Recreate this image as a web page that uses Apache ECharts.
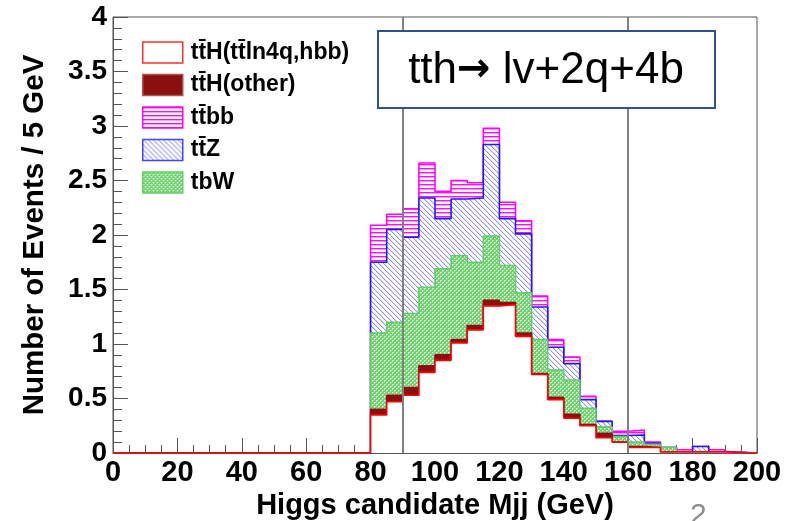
<!DOCTYPE html>
<html><head><meta charset="utf-8">
<script src="https://cdn.jsdelivr.net/npm/echarts@6/dist/echarts.min.js"></script>
<style>html,body{margin:0;padding:0;background:#fff}#c{width:785px;height:521px}</style>
</head><body><div id="c"></div>
<script>
// ---- data ----
const binLowEdges = [80,85,90,95,100,105,110,115,120,125,130,135,140,145,150,155,160,165,170,175,180,185];
const binUpperEdge = 190;
const xRange = [0, 200];
const yRange = [0, 4];
const xTickLabels = ['0','20','40','60','80','100','120','140','160','180','200'];
const yTickLabels = ['0','0.5','1','1.5','2','2.5','3','3.5','4'];
const cutLines = [90, 160];
const seriesNames = ['tt\u0304H(tt\u0304ln4q,hbb)', 'tt\u0304H(other)', 'tt\u0304bb', 'tt\u0304Z', 'tbW'];
// per-process bin contents (stack order bottom to top: ttH ln4q, ttH other, tbW, ttZ, ttbb)
const ttH_ln4q = [0.35,0.47,0.53,0.74,0.85,1.01,1.13,1.35,1.36,1.07,0.72,0.49,0.32,0.25,0.14,0.10,0.05,0.05,0.01,0.01,0.01,0.01];
const ttH_other = [0.05,0.06,0.07,0.06,0.05,0.03,0.04,0.05,0.02,0.03,0.01,0.02,0.035,0.01,0.04,0.00,0.01,0.00,0.00,0.00,0.00,0.00];
const tbW = [0.70,0.67,0.68,0.72,0.79,0.77,0.58,0.59,0.34,0.37,0.31,0.25,0.315,0.15,0.06,0.05,0.04,0.03,0.04,0.00,0.00,0.00];
const ttZ = [0.65,0.85,0.70,0.82,0.46,0.52,0.59,0.84,0.43,0.54,0.30,0.21,0.15,0.08,0.05,0.01,0.065,0.01,0.00,0.00,0.05,0.00];
const ttbb = [0.34,0.14,0.26,0.32,0.25,0.17,0.14,0.15,0.15,0.12,0.10,0.07,0.06,0.03,0.00,0.04,0.045,0.01,0.00,0.02,0.00,0.02];
const boxPrefix = 'tth';
const boxArrow = '\u2192';
const boxSuffix = ' lv+2q+4b';

// ---- patterns (opaque, ROOT-like) ----
function makePattern(w, h, draw) {
  const c = document.createElement('canvas');
  c.width = w; c.height = h;
  const g = c.getContext('2d');
  g.fillStyle = '#ffffff'; g.fillRect(0, 0, w, h);
  draw(g, w, h);
  return { image: c, repeat: 'repeat' };
}
const patBB = makePattern(4, 4, (g, w) => {
  g.fillStyle = 'rgba(255,0,255,0.95)'; g.fillRect(0, 0, w, 1);
  g.fillStyle = 'rgba(255,0,255,0.4)'; g.fillRect(0, 1, w, 1);
});
const patZ = makePattern(5, 5, (g) => {
  for (let i = 0; i < 5; i++) {
    g.fillStyle = 'rgba(100,100,235,0.7)'; g.fillRect(i, i, 1, 1);
    g.fillStyle = 'rgba(100,100,235,0.22)'; g.fillRect((i + 1) % 5, i, 1, 1);
  }
});
const patW = makePattern(4, 4, (g) => {
  g.fillStyle = 'rgb(110,212,110)'; g.fillRect(0, 0, 4, 4);
  g.fillStyle = '#ffffff'; g.fillRect(0, 0, 1, 1); g.fillRect(2, 2, 1, 1);
  g.fillStyle = 'rgba(255,255,255,0.45)';
  g.fillRect(1, 0, 1, 1); g.fillRect(0, 1, 1, 1); g.fillRect(3, 2, 1, 1); g.fillRect(2, 3, 1, 1);
});

// cumulative histogram tops (THStack style)
const stackOrder = [ttH_ln4q, ttH_other, tbW, ttZ, ttbb];
const cumulative = [];
stackOrder.forEach((arr, k) => {
  cumulative.push(arr.map((v, i) => (k ? cumulative[k - 1][i] : 0) + v));
});

function stepPoints(vals) {
  const pts = [[xRange[0], 0]];
  binLowEdges.forEach((x, i) => pts.push([x, vals[i]]));
  pts.push([binUpperEdge, 0]);
  pts.push([xRange[1], 0]);
  return pts;
}

const FONT = "'Liberation Sans', Arial, sans-serif";
const layers = [
  { name: seriesNames[0], k: 0, line: '#ff0000', fill: '#ffffff', legBorder: '#ff3030', z: 7 },
  { name: seriesNames[1], k: 1, line: '#8b1010', fill: '#8b1010', legBorder: '#b05050', z: 6 },
  { name: seriesNames[4], k: 2, line: '#66cc66', fill: patW, legBorder: '#66cc66', z: 5 },
  { name: seriesNames[3], k: 3, line: '#1a1aff', fill: patZ, legBorder: '#4444ff', z: 4 },
  { name: seriesNames[2], k: 4, line: '#ff00ff', fill: patBB, legBorder: '#ff00ff', z: 3 }
];

const series = layers.map((L, idx) => {
  const s = {
    type: 'line', name: L.name, data: stepPoints(cumulative[L.k]), step: 'end',
    symbol: 'none', showSymbol: false, silent: true, animation: false, z: L.z,
    lineStyle: { color: L.line, width: 1.6 },
    itemStyle: { color: L.fill, borderColor: L.legBorder },
    areaStyle: { color: L.fill, opacity: 1, origin: 'start' }
  };
  if (idx === 0) {
    s.markLine = {
      silent: true, symbol: 'none', z: 20, animation: false,
      label: { show: false },
      lineStyle: { color: '#808080', width: 2, type: 'solid' },
      data: cutLines.map(v => ({ xAxis: v }))
    };
  }
  return s;
});

const legendData = seriesNames.map(n => {
  const L = layers.find(l => l.name === n);
  return { name: n, icon: 'rect', itemStyle: { color: L.fill, borderColor: L.legBorder, borderWidth: 1.5 } };
});

const chart = echarts.init(document.getElementById('c'), null, { renderer: 'canvas' });
chart.setOption({
  animation: false,
  backgroundColor: '#ffffff',
  grid: { left: 113, top: 17, right: 28, bottom: 68, containLabel: false, outerBoundsMode: 'none',
          show: true, borderColor: '#555', borderWidth: 1, backgroundColor: 'transparent' },
  legend: {
    orient: 'vertical', left: 137, top: 36, itemWidth: 40, itemHeight: 21, itemGap: 9.5,
    data: legendData, selectedMode: false,
    textStyle: { fontFamily: FONT, fontWeight: 'bold', fontSize: 23, color: '#000', padding: [0, 0, 0, 3] }
  },
  xAxis: {
    type: 'value', min: xRange[0], max: xRange[1], interval: 20,
    name: 'Higgs candidate Mjj (GeV)', nameLocation: 'middle', nameGap: 36,
    nameTextStyle: { fontFamily: FONT, fontWeight: 'bold', fontSize: 29, color: '#000' },
    axisLine: { show: true, lineStyle: { color: '#555', width: 1 } },
    axisTick: { show: true, inside: true, length: 15, lineStyle: { color: '#555' } },
    minorTick: { show: true, splitNumber: 4, length: 8, lineStyle: { color: '#555' } },
    splitLine: { show: false }, minorSplitLine: { show: false },
    axisLabel: { margin: 5, fontFamily: FONT, fontWeight: 'bold', fontSize: 29, color: '#000',
                 formatter: v => xTickLabels[Math.round(v / 20)] ?? '' }
  },
  yAxis: {
    type: 'value', min: yRange[0], max: yRange[1], interval: 0.5,
    name: 'Number of Events / 5 GeV', nameLocation: 'middle', nameGap: 63, nameRotate: 90,
    nameTextStyle: { fontFamily: FONT, fontWeight: 'bold', fontSize: 29.5, color: '#000' },
    axisLine: { show: true, lineStyle: { color: '#555', width: 1 } },
    axisTick: { show: true, inside: true, length: 15, lineStyle: { color: '#555' } },
    minorTick: { show: true, splitNumber: 5, length: 9, lineStyle: { color: '#555' } },
    splitLine: { show: false }, minorSplitLine: { show: false },
    axisLabel: { margin: 6, fontFamily: FONT, fontWeight: 'bold', fontSize: 28, color: '#000',
                 formatter: v => yTickLabels[Math.round(v / 0.5)] ?? '' }
  },
  graphic: [
    { type: 'rect', x: 378, y: 31, z: 100, shape: { width: 337, height: 77 },
      style: { fill: '#ffffff', stroke: '#2f528f', lineWidth: 2 } },
    { type: 'text', x: 546, y: 71, z: 101,
      style: { text: '{a|' + boxPrefix + '}{b|' + boxArrow + '}{a|' + boxSuffix + '}', align: 'center', verticalAlign: 'middle',
        rich: {
          a: { fontFamily: FONT, fontSize: 44, fill: '#000', color: '#000' },
          b: { fontFamily: "'DejaVu Sans', sans-serif", fontWeight: 'bold', fontSize: 40, fill: '#000', color: '#000' }
        } } },
    { type: 'text', x: 690, y: 501, z: 101,
      style: { text: '2', fontFamily: FONT, fontSize: 30, fill: '#8c8c8c', align: 'left', verticalAlign: 'top' } }
  ],
  series: series
});
</script>
</body></html>
